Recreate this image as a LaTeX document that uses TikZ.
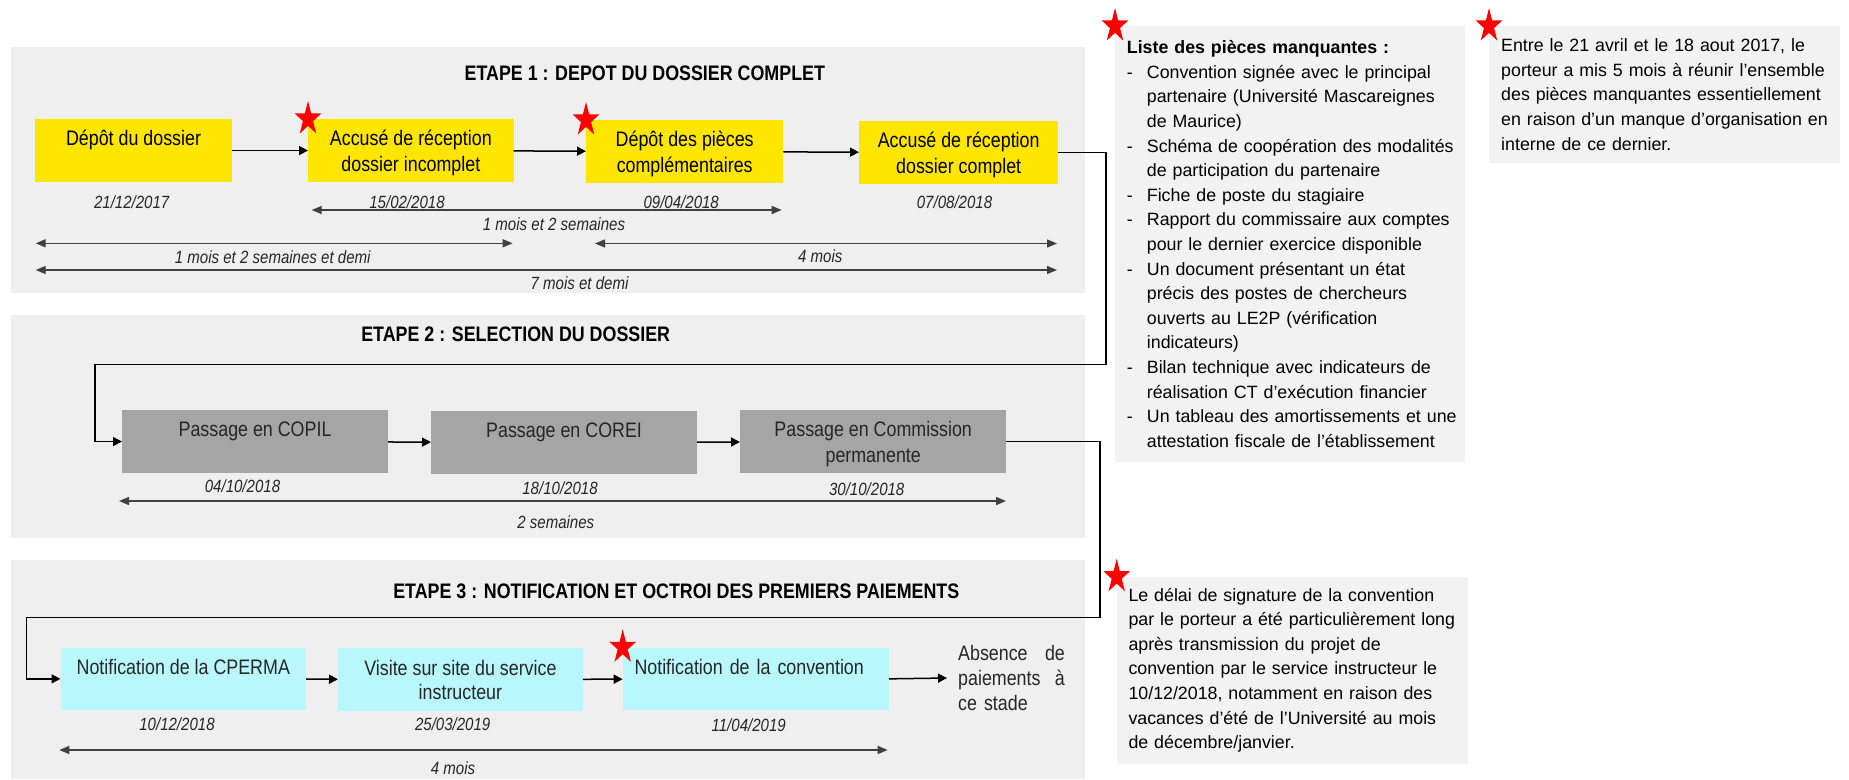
\documentclass[tikz,border=0pt]{standalone}
\usepackage{fontspec}
\setmainfont{Liberation Sans}
\newfontfamily\narrowfont[FakeStretch=0.85]{Liberation Sans}
\usetikzlibrary{arrows.meta,positioning}

\definecolor{panelgray}{HTML}{EFEFEF}
\definecolor{notegray}{HTML}{F2F2F2}
\definecolor{stepyellow}{HTML}{FFE600}
\definecolor{stepgray}{HTML}{A5A5A5}
\definecolor{stepcyan}{HTML}{B8F8FC}
\definecolor{durgray}{HTML}{404040}

\newcommand{\st}{\rule[-4.3pt]{0pt}{24.3pt}}
\newcommand{\lig}[1]{\mbox{#1}}
\newcommand{\itm}[1]{\mbox{\makebox[20pt][l]{-}#1}}
\newcommand{\ind}[1]{\mbox{\hspace*{20pt}#1}}

\tikzset{
	panel/.style={fill=panelgray, anchor=north west, minimum width=1073.3pt, inner sep=0pt},
	etape/.style={font=\narrowfont\bfseries\fontsize{21}{24}\selectfont, inner sep=0pt},
	stepbox/.style={anchor=north west, minimum height=62.7pt, inner sep=0pt, align=center,
		font=\narrowfont\fontsize{21}{24.3}\selectfont},
	jour/.style={font=\narrowfont\itshape\fontsize{17.7}{20}\selectfont, inner sep=0pt, text=black!85},
	duree/.style={jour},
	fleche/.style={-{Triangle[length=9pt,width=9pt]}, line width=1.5pt, black},
	periode/.style={{Triangle[length=10pt,width=8pt]}-{Triangle[length=10pt,width=8pt]}, line width=1.4pt, durgray},
	note/.style={fill=notegray, anchor=north west, inner ysep=0pt, align=left,
		font=\fontsize{17.8}{24.6}\selectfont},
	pics/redstar/.style={code={
		\fill[red, x=14pt, y=18pt] (90:1) -- (126:.38) -- (162:1) -- (198:.38) -- (234:1) -- (270:.38)
			-- (306:1) -- (342:.38) -- (18:1) -- (54:.38) -- cycle;}},
}

\begin{document}
\begin{tikzpicture}[x=1pt, y=-1pt]
	\useasboundingbox (0,0) rectangle (1849,779);

	\node[panel, minimum height=245.7pt] (e1) at (11,47) {};
	\node[panel, minimum height=223.4pt] (e2) at (11,314.3) {};
	\node[panel, minimum height=219pt] (e3) at (11,560) {};

	\node[etape] (t1) at (644.8,73.3) {ETAPE 1 : DEPOT DU DOSSIER COMPLET};
	\node[etape] (t2) at (515.7,334) {ETAPE 2 : SELECTION DU DOSSIER};
	\node[etape] (t3) at (676.3,591) {ETAPE 3 : NOTIFICATION ET OCTROI DES PREMIERS PAIEMENTS};

	% etape 1
	\node[stepbox, fill=stepyellow, minimum width=196.7pt] (b1) at (35,119) {\st Dépôt du dossier\\\st};
	\node[stepbox, fill=stepyellow, minimum width=205.3pt] (b2) at (308,119) {\st Accusé de réception\\\st dossier incomplet};
	\node[stepbox, fill=stepyellow, minimum width=197pt] (b3) at (586,120) {\st Dépôt des pièces\\\st complémentaires};
	\node[stepbox, fill=stepyellow, minimum width=199pt] (b4) at (859,121) {\st Accusé de réception\\\st dossier complet};

	% etape 2
	\node[stepbox, fill=stepgray, text=black!85, minimum width=265.7pt] (c1) at (122,410) {\st Passage en COPIL\\\st};
	\node[stepbox, fill=stepgray, text=black!85, minimum width=265.7pt] (c2) at (431,411) {\st Passage en COREI\\\st};
	\node[stepbox, fill=stepgray, text=black!85, minimum width=266pt] (c3) at (740,410) {\st Passage en Commission\\\st permanente};

	% etape 3
	\node[stepbox, fill=stepcyan, text=black!85, minimum width=245.2pt] (n1) at (60.5,647.3) {\st Notification de la CPERMA\\\st};
	\node[stepbox, fill=stepcyan, text=black!85, minimum width=244.4pt] (n2) at (338,648) {\st Visite sur site du service\\\st instructeur};
	\node[stepbox, fill=stepcyan, text=black!85, align=left, text width=242.8pt, inner xsep=11.6pt] (n3) at (622.7,647.3) {\st Notification de la convention\\\st};
	\node[anchor=west, inner xsep=11pt, inner ysep=0pt, align=left, text width=106.7pt, text=black!85,
		font=\narrowfont\fontsize{21}{24.8}\selectfont] (abs) at (947,678) {Absence\hfill de\\paiements\hfill à\\ce stade};

	% encadres
	\node[note, text width=326.6pt, inner xsep=11.7pt, minimum height=435.7pt] (manque) at (1115,26) {%
		\lig{\textbf{Liste des pièces manquantes :}}\\
		\itm{Convention signée avec le principal}\\
		\ind{partenaire (Université Mascareignes}\\
		\ind{de Maurice)}\\
		\itm{Schéma de coopération des modalités}\\
		\ind{de participation du partenaire}\\
		\itm{Fiche de poste du stagiaire}\\
		\itm{Rapport du commissaire aux comptes}\\
		\ind{pour le dernier exercice disponible}\\
		\itm{Un document présentant un état}\\
		\ind{précis des postes de chercheurs}\\
		\ind{ouverts au LE2P (vérification}\\
		\ind{indicateurs)}\\
		\itm{Bilan technique avec indicateurs de}\\
		\ind{réalisation CT d’exécution financier}\\
		\itm{Un tableau des amortissements et une}\\
		\ind{attestation fiscale de l’établissement}};
	\node[note, text width=326.3pt, inner xsep=12pt, minimum height=136.7pt] (retard) at (1489,26) {%
		\lig{Entre le 21 avril et le 18 aout 2017, le}\\
		\lig{porteur a mis 5 mois à réunir l’ensemble}\\
		\lig{des pièces manquantes essentiellement}\\
		\lig{en raison d’un manque d’organisation en}\\
		\lig{interne de ce dernier.}};
	\node[note, text width=327.8pt, inner xsep=11.6pt, minimum height=186.6pt] (signature) at (1116.7,576.7) {%
		\lig{Le délai de signature de la convention}\\
		\lig{par le porteur a été particulièrement long}\\
		\lig{après transmission du projet de}\\
		\lig{convention par le service instructeur le}\\
		\lig{10/12/2018, notamment en raison des}\\
		\lig{vacances d’été de l’Université au mois}\\
		\lig{de décembre/janvier.}};

	% enchainement
	\draw[fleche] (b1) -- (b2);
	\draw[fleche] (b2) -- (b3);
	\draw[fleche] (b3) -- (b4);
	\coordinate (r1) at (1106,364.3);
	\coordinate (l1) at (95,364.3);
	\draw[fleche] (b4.east) -| (r1) -- (l1) |- (c1.west);
	\draw[fleche] (c1) -- (c2);
	\draw[fleche] (c2) -- (c3);
	\coordinate (r2) at (1100,617.5);
	\coordinate (l2) at (26.7,617.5);
	\draw[fleche] (c3.east) -| (r2) -- (l2) |- (n1.west);
	\draw[fleche] (n1) -- (n2);
	\draw[fleche] (n2) -- (n3);
	\draw[fleche] (n3.east) -- (abs.west);

	% dates
	\node[jour] (d1) at (131.7,202) {21/12/2017};
	\node[jour] (d2) at (407,202) {15/02/2018};
	\node[jour] (d3) at (681.2,202) {09/04/2018};
	\node[jour] (d4) at (954.5,202) {07/08/2018};
	\node[jour] (d5) at (242.5,486) {04/10/2018};
	\node[jour] (d6) at (560,488) {18/10/2018};
	\node[jour] (d7) at (866.7,489) {30/10/2018};
	\node[jour] (d8) at (177,724) {10/12/2018};
	\node[jour] (d9) at (452.7,724) {25/03/2019};
	\node[jour] (d10) at (748.7,725) {11/04/2019};

	% durees
	\coordinate (p1a) at (311.7,210); \coordinate (p1b) at (781.7,210);
	\draw[periode] (p1a) -- (p1b);
	\node[duree] (s1) at (554,224) {1 mois et 2 semaines};
	\coordinate (p2a) at (35.7,243.3); \coordinate (p2b) at (512.7,243.3);
	\draw[periode] (p2a) -- (p2b);
	\node[duree] (s2) at (272.7,257.3) {1 mois et 2 semaines et demi};
	\coordinate (p3a) at (595,243.5); \coordinate (p3b) at (1057,243.5);
	\draw[periode] (p3a) -- (p3b);
	\node[duree] (s3) at (820.3,256) {4 mois};
	\coordinate (p4a) at (35.7,270); \coordinate (p4b) at (1057,270);
	\draw[periode] (p4a) -- (p4b);
	\node[duree] (s4) at (579.5,282.7) {7 mois et demi};
	\coordinate (p5a) at (119,501); \coordinate (p5b) at (1006,501);
	\draw[periode] (p5a) -- (p5b);
	\node[duree] (s5) at (555.8,522) {2 semaines};
	\coordinate (p6a) at (59.3,750); \coordinate (p6b) at (887.7,750);
	\draw[periode] (p6a) -- (p6b);
	\node[duree] (s6) at (453,768.3) {4 mois};

	% etoiles
	\pic at (b2.north west) {redstar};
	\pic at (b3.north west) {redstar};
	\pic at (n3.north west) {redstar};
	\pic at (manque.north west) {redstar};
	\pic at (retard.north west) {redstar};
	\pic at (signature.north west) {redstar};
\end{tikzpicture}
\end{document}
